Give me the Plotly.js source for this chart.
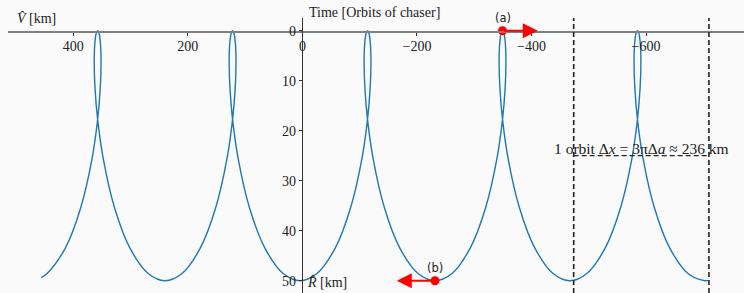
<!DOCTYPE html>
<html>
<head>
<meta charset="utf-8">
<script src="https://cdn.plot.ly/plotly-3.0.1.min.js"></script>
<style>
html,body{margin:0;padding:0;background:#fafafa;}
#chart{width:744px;height:293px;}
</style>
</head>
<body>
<div id="chart"></div>
<script>
// Along-track (V-hat) and radial (R-hat) position of the chaser, km
const V_km = [
  456.0,
  445.75, 413.73, 387.04, 367.52, 357.48, 352.93, 351.53, 352.63, 355.07, 357.5, 359.93, 362.37, 363.47, 362.07, 357.52, 347.48, 327.96, 301.27, 269.25, 239.69,
  210.15, 178.13, 151.44, 131.92, 121.88, 117.33, 115.93, 117.03, 119.47, 121.9, 124.33, 126.77, 127.87, 126.47, 121.92, 111.88, 92.36, 65.67, 33.65, 4.09,
  -25.45, -57.47, -84.16, -103.68, -113.72, -118.27, -119.67, -118.57, -116.13, -113.7, -111.27, -108.83, -107.73, -109.13, -113.68, -123.72, -143.24, -169.93, -201.95, -231.51,
  -261.15, -293.17, -319.86, -339.38, -349.42, -353.97, -355.37, -354.27, -351.83, -349.4, -346.97, -344.53, -343.43, -344.83, -349.38, -359.42, -378.94, -405.63, -437.65, -467.21,
  -496.75, -528.77, -555.46, -574.98, -585.02, -589.57, -590.97, -589.87, -587.43, -585.0, -582.57, -580.13, -579.03, -580.43, -584.98, -595.02, -614.54, -641.23, -673.25, -702.81,
  -708.9
];
const R_km = [
  49.39,
  48.56, 43.43, 35.40, 25.73, 17.72, 11.49, 6.21, 2.49, 0.50, 0, 0.50, 2.49, 6.21, 11.49, 17.72, 25.73, 35.40, 43.43, 48.56, 50,
  48.56, 43.43, 35.40, 25.73, 17.72, 11.49, 6.21, 2.49, 0.50, 0, 0.50, 2.49, 6.21, 11.49, 17.72, 25.73, 35.40, 43.43, 48.56, 50,
  48.56, 43.43, 35.40, 25.73, 17.72, 11.49, 6.21, 2.49, 0.50, 0, 0.50, 2.49, 6.21, 11.49, 17.72, 25.73, 35.40, 43.43, 48.56, 50,
  48.56, 43.43, 35.40, 25.73, 17.72, 11.49, 6.21, 2.49, 0.50, 0, 0.50, 2.49, 6.21, 11.49, 17.72, 25.73, 35.40, 43.43, 48.56, 50,
  48.56, 43.43, 35.40, 25.73, 17.72, 11.49, 6.21, 2.49, 0.50, 0, 0.50, 2.49, 6.21, 11.49, 17.72, 25.73, 35.40, 43.43, 48.56, 50,
  49.94
];

// Marked states (a) and (b) and their arrow tips
const pointLabels = ["(a)", "(b)"];
const pointV = [-349.4, -231.5];
const pointR = [0, 50];
const arrowTipV = [-411.0, -164.8];

// One-orbit drift markers
const orbitMarkV = [-473.6, -709.8];
const orbitMarkR = 25;
const orbitText = "1 orbit Δ<i>x</i> = 3πΔ<i>a</i> ≈ 236 km";

// Axis ticks
const xTicks = [400, 200, 0, -200, -400, -600];
const yTicks = [0, 10, 20, 30, 40, 50];
const xRange = [514, -771];
const yRange = [52.46, -2.54];

const serif = "Liberation Serif, DejaVu Serif, serif";
const sans = "DejaVu Sans, sans-serif";

const traces = [
  {
    x: V_km, y: R_km, type: "scatter", mode: "lines",
    line: {color: "#1f77b4", width: 1.4, shape: "spline", smoothing: 1},
    hoverinfo: "skip", showlegend: false
  },
  {
    x: pointV, y: pointR, type: "scatter", mode: "markers",
    marker: {color: "#ff0000", size: 9},
    hoverinfo: "skip", showlegend: false
  }
];

const shapes = [];
orbitMarkV.forEach(v => {
  shapes.push({type: "line", xref: "x", yref: "paper", x0: v, x1: v, y0: 0, y1: 1,
    line: {color: "#222", width: 1.6, dash: "5px,3px"}});
});
shapes.push({type: "line", xref: "x", yref: "y", x0: orbitMarkV[0], x1: orbitMarkV[1],
  y0: orbitMarkR, y1: orbitMarkR, line: {color: "#222", width: 1.3, dash: "5px,3px"}});

const annotations = [
  {xref: "paper", yref: "paper", x: 0.4062, y: 1.0218, xanchor: "left", yanchor: "middle",
   text: "Time [Orbits of chaser]", showarrow: false, font: {family: serif, size: 14, color: "#222"}},
  {xref: "paper", yref: "paper", x: 0.0095, y: 0.9964, xanchor: "left", yanchor: "middle",
   text: "<i>V̂</i> [km]", showarrow: false, font: {family: serif, size: 14, color: "#222"}},
  {xref: "paper", yref: "paper", x: 0.4035, y: 0.0364, xanchor: "left", yanchor: "middle",
   text: "<i>R̂</i> [km]", showarrow: false, font: {family: serif, size: 14, color: "#222"}},
  {xref: "x", yref: "y", x: (orbitMarkV[0] + orbitMarkV[1]) / 2, y: orbitMarkR, yanchor: "bottom",
   xanchor: "center", yshift: -3, text: orbitText, showarrow: false,
   font: {family: serif, size: 15.5, color: "#222"}}
];
pointLabels.forEach((lab, i) => {
  annotations.push({xref: "x", yref: "y", x: pointV[i], y: pointR[i], yanchor: "bottom",
    yshift: 4, text: lab, showarrow: false, font: {family: sans, size: 11.5, color: "#222"}});
  annotations.push({xref: "x", yref: "y", axref: "x", ayref: "y",
    x: arrowTipV[i], y: pointR[i], ax: pointV[i], ay: pointR[i], text: "",
    showarrow: true, arrowhead: 2, arrowsize: 1.5, arrowwidth: 2, arrowcolor: "#ff0000",
    standoff: 0, startstandoff: 0});
});

const layout = {
  width: 744, height: 293,
  margin: {l: 8, r: 0, t: 18, b: 0, pad: 0},
  paper_bgcolor: "#fafafa", plot_bgcolor: "#fafafa",
  showlegend: false,
  xaxis: {
    range: xRange, anchor: "free", position: 0.9527, side: "bottom",
    tickvals: xTicks, ticktext: xTicks.map(v => (v < 0 ? "\u2212" + Math.abs(v) : String(v))),
    ticks: "outside", ticklen: 3.5, tickwidth: 1, tickcolor: "#333",
    ticklabelstandoff: -2,
    showline: true, linecolor: "#808080", linewidth: 1.5,
    showgrid: false, zeroline: false, automargin: false,
    tickfont: {family: serif, size: 14, color: "#222"}
  },
  yaxis: {
    range: yRange, anchor: "free", position: 0.3999, side: "left",
    tickvals: yTicks, ticktext: yTicks.map(String),
    ticks: "outside", ticklen: 3.5, tickwidth: 1, tickcolor: "#333",
    showline: true, linecolor: "#333", linewidth: 1,
    showgrid: false, zeroline: false, automargin: false,
    tickfont: {family: serif, size: 14, color: "#222"}
  },
  shapes: shapes,
  annotations: annotations
};

Plotly.newPlot("chart", traces, layout, {displayModeBar: false, staticPlot: true});
</script>
</body>
</html>
